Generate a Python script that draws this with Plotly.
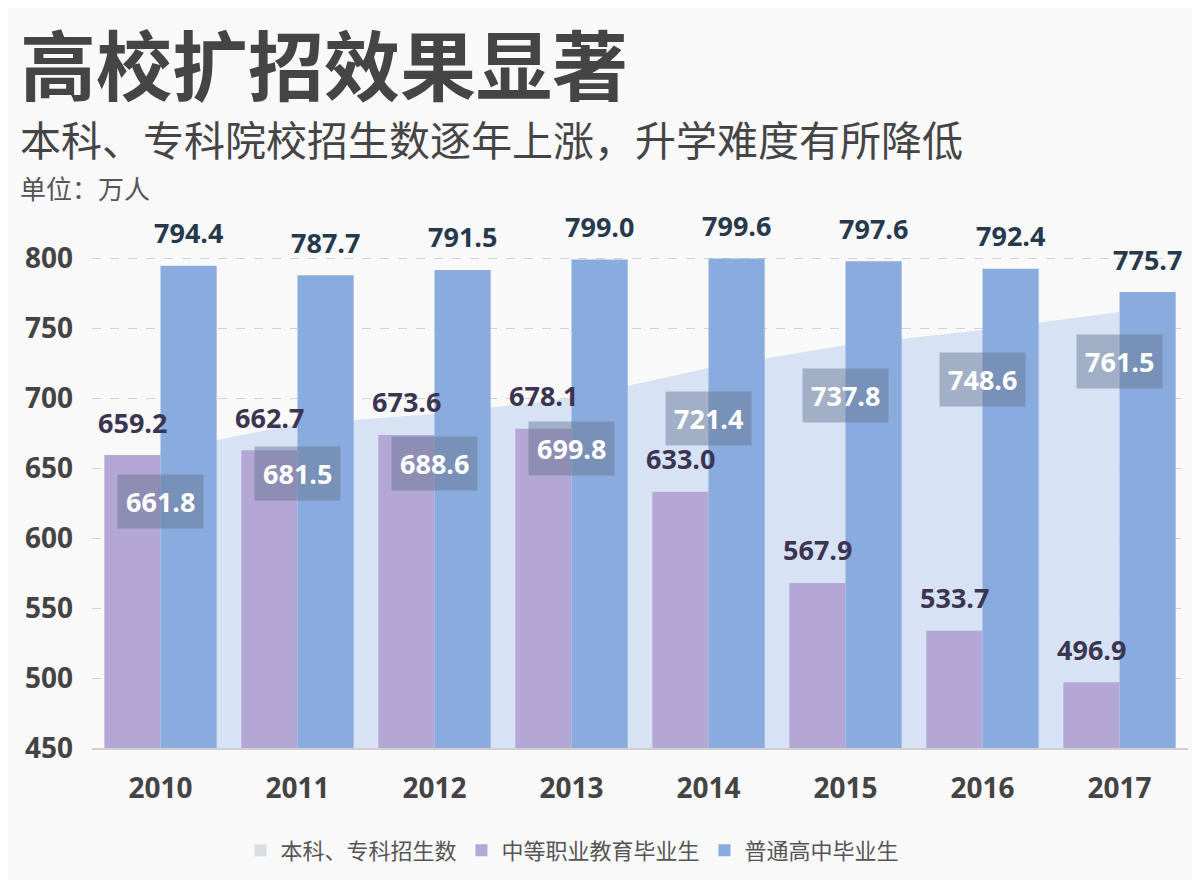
import plotly.graph_objects as go

years = ["2010", "2011", "2012", "2013", "2014", "2015", "2016", "2017"]
undergrad_enroll = [661.8, 681.5, 688.6, 699.8, 721.4, 737.8, 748.6, 761.5]
vocational_grads = [659.2, 662.7, 673.6, 678.1, 633.0, 567.9, 533.7, 496.9]
highschool_grads = [794.4, 787.7, 791.5, 799.0, 799.6, 797.6, 792.4, 775.7]
y_ticks = [450, 500, 550, 600, 650, 700, 750, 800]

names = ["本科、专科招生数", "中等职业教育毕业生", "普通高中毕业生"]
c_area = "#d7e3f5"
c_area_legend = "#d9dee2"
c_purple = "#b5a7d5"
c_blue = "#8aabdd"
num_font = "Open Sans, DejaVu Sans, sans-serif"
cjk_font = "Noto Sans CJK SC, sans-serif"

fig = go.Figure()

# background area (drawn on the base axes so it sits below the bars)
fig.add_trace(go.Scatter(
    x=years, y=undergrad_enroll, name=names[0], mode="none",
    fill="tozeroy", fillcolor=c_area, showlegend=False,
    xaxis="x", yaxis="y", hoverinfo="skip"))
# legend swatch for the area series
fig.add_trace(go.Bar(
    x=[None], y=[None], name=names[0], marker=dict(color=c_area_legend),
    xaxis="x", yaxis="y", showlegend=True))

fig.add_trace(go.Bar(
    x=years, y=vocational_grads, name=names[1], marker=dict(color=c_purple, line=dict(width=0)),
    xaxis="x2", yaxis="y2"))
fig.add_trace(go.Bar(
    x=years, y=highschool_grads, name=names[2], marker=dict(color=c_blue, line=dict(width=0)),
    xaxis="x2", yaxis="y2"))

annotations = []
for i, v in enumerate(vocational_grads):
    annotations.append(dict(x=i, y=v, xref="x", yref="y", text=f"{v:.1f}", showarrow=False,
                            xshift=-28, yshift=33, yanchor="middle",
                            font=dict(family=num_font, size=27, color="#3b3552", weight="bold")))
for i, v in enumerate(highschool_grads):
    annotations.append(dict(x=i, y=v, xref="x", yref="y", text=f"{v:.1f}", showarrow=False,
                            xshift=28, yshift=33, yanchor="middle",
                            font=dict(family=num_font, size=27, color="#26394d", weight="bold")))
for i, v in enumerate(undergrad_enroll):
    annotations.append(dict(x=i, y=v, xref="x", yref="y", text=f"{v:.1f}", showarrow=False,
                            yshift=-50, yanchor="middle", bgcolor="rgba(95,112,142,0.45)",
                            borderpad=8,
                            font=dict(family=num_font, size=27, color="#ffffff", weight="bold")))

# Titles (paper coords: plot area spans 1096 x 511 px)
annotations += [
    dict(text="高校扩招效果显著", xref="paper", yref="paper", x=-0.0675, y=1.3425,
         xanchor="left", yanchor="middle", showarrow=False,
         font=dict(family=cjk_font, size=76, color="#454545", weight="bold")),
    dict(text="本科、专科院校招生数逐年上涨，升学难度有所降低", xref="paper", yref="paper",
         x=-0.0675, y=1.194, xanchor="left", yanchor="middle", showarrow=False,
         font=dict(family=cjk_font, size=41, color="#454545")),
    dict(text="单位：万人", xref="paper", yref="paper", x=-0.0675, y=1.096,
         xanchor="left", yanchor="middle", showarrow=False,
         font=dict(family=cjk_font, size=26, color="#555555")),
]

fig.update_layout(
    width=1192, height=872, autosize=False,
    paper_bgcolor="#f9f9f9", plot_bgcolor="rgba(0,0,0,0)",
    margin=dict(l=84, r=12, t=229, b=132),
    barmode="group", bargap=0.18, bargroupgap=0,
    showlegend=True,
    legend=dict(orientation="h", xref="container", yref="container", x=0.195, y=0.034,
                xanchor="left", yanchor="middle", traceorder="normal",
                font=dict(family=cjk_font, size=22, color="#555555"),
                bgcolor="rgba(0,0,0,0)"),
    xaxis=dict(type="category", categoryorder="array", categoryarray=years,
               range=[-0.5, 7.5], showgrid=False, showline=True, linecolor="#cfcfcf",
               linewidth=1.5, ticks="", ticklabelstandoff=15,
               tickfont=dict(family=num_font, size=28, color="#444444", weight="bold")),
    yaxis=dict(range=[450, 815], tickvals=y_ticks, showgrid=True, gridcolor="#d2d2d2",
               griddash="dash", gridwidth=1, zeroline=False, showline=False, ticks="",
               ticklabelstandoff=18,
               tickfont=dict(family=num_font, size=28, color="#444444", weight="bold")),
    xaxis2=dict(type="category", categoryorder="array", categoryarray=years,
                range=[-0.5, 7.5], overlaying="x", showgrid=False, showline=False,
                showticklabels=False, ticks=""),
    yaxis2=dict(range=[450, 815], overlaying="y", showgrid=False, zeroline=False,
                showline=False, showticklabels=False, ticks=""),
    annotations=annotations,
)

fig.write_html("out.html")
